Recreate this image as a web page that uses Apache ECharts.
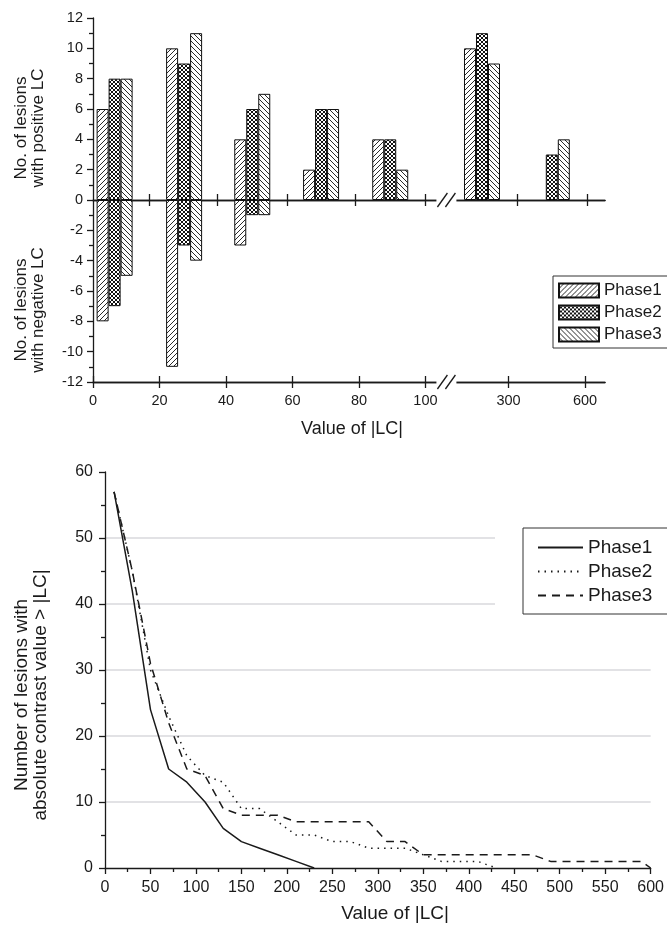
<!DOCTYPE html>
<html>
<head>
<meta charset="utf-8">
<script src="https://cdn.jsdelivr.net/npm/echarts@6/dist/echarts.min.js"></script>
<style>
  html, body { margin: 0; padding: 0; background: #fff; }
  #chart { width: 667px; height: 925px; }
</style>
</head>
<body>
<div id="chart"></div>
<script>
  // --- top chart: lesions with positive / negative LC per |LC| bin ---
  const phaseNames = ['Phase1', 'Phase2', 'Phase3']
  const groupPos = [6.5, 27.4, 47.9, 68.6, 89.4, 117, 138]
  const posPhase1 = [6, 10, 4, 2, 4, 10, 0]
  const posPhase2 = [8, 9, 6, 6, 4, 11, 3]
  const posPhase3 = [8, 11, 7, 6, 2, 9, 4]
  const negPhase1 = [-8, -11, -3, 0, 0, 0, 0]
  const negPhase2 = [-7, -3, -1, 0, 0, 0, 0]
  const negPhase3 = [-5, -4, -1, 0, 0, 0, 0]
  const xTickPos = [0, 20, 40, 60, 80, 100, 125, 148]
  const xTickLabels = ['0', '20', '40', '60', '80', '100', '300', '600']
  const zeroTickPos = [17, 37.5, 58.3, 79, 100, 127.5, 148.6]
  const breakPos = 106.3

  // --- bottom chart: lesions with |contrast| > LC ---
  const lcX = [10, 30, 50, 70, 90, 110, 130, 150, 170, 190, 210, 230, 250, 270, 290, 310,
    330, 350, 370, 390, 410, 430, 450, 470, 490, 510, 530, 550, 570, 590, 600]
  const curvePhase1 = [57, 42, 24, 15, 13, 10, 6, 4, 3, 2, 1, 0]
  const curvePhase2 = [57, 45, 30, 23, 17, 14, 13, 9, 9, 7, 5, 5, 4, 4, 3, 3, 3, 2, 1, 1, 1, 0]
  const curvePhase3 = [57, 45, 31, 22, 15, 14, 9, 8, 8, 8, 7, 7, 7, 7, 7, 4, 4, 2, 2, 2, 2, 2, 2, 2,
    1, 1, 1, 1, 1, 1, 0]

  const FONT = '"Liberation Sans", Arial, sans-serif'
  const INK = '#1a1a1a'

  function makePattern(kind) {
    const s = kind === 'cross' ? 4 : 5
    const c = document.createElement('canvas')
    c.width = s
    c.height = s
    const g = c.getContext('2d')
    g.fillStyle = '#fff'
    g.fillRect(0, 0, s, s)
    g.strokeStyle = kind === 'cross' ? '#111' : '#2a2a2a'
    g.lineWidth = kind === 'cross' ? 1 : 1
    const fwd = () => {
      g.beginPath()
      g.moveTo(-1, s + 1); g.lineTo(s + 1, -1)
      g.moveTo(-1, 1); g.lineTo(1, -1)
      g.moveTo(s - 1, s + 1); g.lineTo(s + 1, s - 1)
      g.stroke()
    }
    const back = () => {
      g.beginPath()
      g.moveTo(-1, -1); g.lineTo(s + 1, s + 1)
      g.moveTo(-1, s - 1); g.lineTo(1, s + 1)
      g.moveTo(s - 1, -1); g.lineTo(s + 1, 1)
      g.stroke()
    }
    if (kind === 'fwd' || kind === 'cross') fwd()
    if (kind === 'back' || kind === 'cross') back()
    return { image: c, repeat: 'repeat' }
  }
  const patterns = [makePattern('fwd'), makePattern('cross'), makePattern('back')]

  const posData = [posPhase1, posPhase2, posPhase3]
  const negData = [negPhase1, negPhase2, negPhase3]
  const curves = [curvePhase1, curvePhase2, curvePhase3]
  const dashes = ['solid', [1.5, 5], [8, 6]]

  const series = []
  phaseNames.forEach((name, i) => {
    const common = {
      type: 'bar',
      name: name,
      stack: 's' + i,
      xAxisIndex: 0,
      yAxisIndex: 0,
      barWidth: 12,
      barGap: '0%',
      itemStyle: { color: patterns[i], borderColor: '#111', borderWidth: 1 }
    }
    series.push(Object.assign({}, common, {
      data: groupPos.map((x, j) => [x, posData[i][j] || '-'])
    }))
    series.push(Object.assign({}, common, {
      data: groupPos.map((x, j) => [x, negData[i][j] || '-'])
    }))
  })
  phaseNames.forEach((name, i) => {
    series.push({
      type: 'line',
      name: name + '-LC',
      xAxisIndex: 4,
      yAxisIndex: 1,
      symbol: 'none',
      showSymbol: false,
      itemStyle: { color: INK },
      lineStyle: { color: INK, width: 1.5, type: dashes[i] },
      data: lcX.map((x, k) => [x, curves[i][k] === undefined ? null : curves[i][k]])
    })
  })

  const axisLine = { show: true, onZero: false, lineStyle: { color: INK, width: 1.3 } }
  const tickStyle = { color: INK, width: 1.3 }
  const topXBase = { type: 'value', gridIndex: 0, min: 0, max: 154, splitLine: { show: false } }

  const chart = echarts.init(document.getElementById('chart'))
  chart.setOption({
    animation: false,
    backgroundColor: '#fff',
    textStyle: { fontFamily: FONT },
    grid: [
      { left: 93, top: 18, width: 512, height: 364 },
      { left: 105, top: 472, width: 557, height: 396 }
    ],
    legend: [
      {
        data: phaseNames,
        icon: 'rect',
        left: 553,
        top: 276,
        orient: 'vertical',
        itemWidth: 40,
        itemHeight: 14,
        itemGap: 5,
        padding: [6, 40, 5, 5],
        borderColor: '#333',
        borderWidth: 1,
        backgroundColor: '#fff',
        textStyle: { fontSize: 17, color: INK, fontFamily: FONT }
      },
      {
        data: phaseNames.map(n => n + '-LC'),
        formatter: n => n.replace('-LC', ''),
        left: 523,
        top: 528,
        orient: 'vertical',
        itemWidth: 45,
        itemHeight: 12,
        itemGap: 5,
        padding: [10, 40, 9, 14],
        borderColor: '#333',
        borderWidth: 1,
        backgroundColor: '#fff',
        itemStyle: { opacity: 0 },
        textStyle: { fontSize: 19, color: INK, fontFamily: FONT }
      }
    ],
    xAxis: [
      Object.assign({}, topXBase, {
        position: 'bottom',
        axisLine: axisLine,
        axisTick: { show: true, length: 6, lineStyle: tickStyle, customValues: xTickPos },
        axisLabel: {
          show: true, margin: 11, fontSize: 14.5, color: INK, fontFamily: FONT,
          customValues: xTickPos,
          formatter: v => xTickLabels[xTickPos.indexOf(v)]
        }
      }),
      Object.assign({}, topXBase, {
        position: 'bottom',
        axisLine: { show: true, onZero: true, onZeroAxisIndex: 0, lineStyle: { color: INK, width: 1.3 } },
        axisTick: { show: true, length: 6, lineStyle: tickStyle, customValues: zeroTickPos },
        axisLabel: { show: false }
      }),
      Object.assign({}, topXBase, {
        position: 'bottom',
        axisLine: axisLine,
        axisTick: { show: true, inside: true, length: 6, lineStyle: tickStyle, customValues: xTickPos },
        axisLabel: { show: false }
      }),
      Object.assign({}, topXBase, {
        position: 'bottom',
        axisLine: { show: true, onZero: true, onZeroAxisIndex: 0, lineStyle: { color: INK, width: 1.3 } },
        axisTick: { show: true, inside: true, length: 6, lineStyle: tickStyle, customValues: zeroTickPos },
        axisLabel: { show: false }
      }),
      {
        type: 'value',
        gridIndex: 1,
        min: 0,
        max: 600,
        interval: 50,
        axisLine: axisLine,
        axisTick: { show: true, length: 6, lineStyle: tickStyle },
        minorTick: { show: true, splitNumber: 2, length: 4, lineStyle: tickStyle },
        axisLabel: { margin: 12, fontSize: 16, color: INK, fontFamily: FONT },
        splitLine: { show: false }
      }
    ],
    yAxis: [
      {
        type: 'value',
        gridIndex: 0,
        min: -12,
        max: 12,
        interval: 2,
        axisLine: axisLine,
        axisTick: { show: true, length: 6, lineStyle: tickStyle },
        minorTick: { show: true, splitNumber: 2, length: 4, lineStyle: tickStyle },
        axisLabel: { margin: 10, fontSize: 14.5, color: INK, fontFamily: FONT },
        splitLine: { show: false }
      },
      {
        type: 'value',
        gridIndex: 1,
        min: 0,
        max: 60,
        interval: 10,
        axisLine: axisLine,
        axisTick: { show: true, length: 6, lineStyle: tickStyle },
        minorTick: { show: true, splitNumber: 2, length: 4, lineStyle: tickStyle },
        axisLabel: { margin: 12, fontSize: 16, color: INK, fontFamily: FONT },
        splitLine: { show: true, showMinLine: false, showMaxLine: false, lineStyle: { color: '#d8d8dd', width: 1.5 } }
      }
    ],
    series: series
  })

  // axis breaks, axis titles and the white patch behind the lower legend
  const bx = chart.convertToPixel({ xAxisIndex: 0 }, breakPos)
  const yLines = [chart.convertToPixel({ yAxisIndex: 0 }, -12), chart.convertToPixel({ yAxisIndex: 0 }, 0)]
  const graphics = []
  yLines.forEach(y => {
    graphics.push({
      type: 'rect', z: 50,
      shape: { x: bx - 10, y: y - 3, width: 20, height: 6 },
      style: { fill: '#fff' }
    })
    ;[-4, 4].forEach(dx => {
      graphics.push({
        type: 'line', z: 51,
        shape: { x1: bx + dx - 5, y1: y + 7, x2: bx + dx + 5, y2: y - 7 },
        style: { stroke: INK, lineWidth: 1.3 }
      })
    })
  })
  const label = (text, x, y, size, rotate) => ({
    type: 'text', x: x, y: y, z: 60,
    rotation: rotate ? Math.PI / 2 : 0,
    style: {
      text: text, fill: INK, font: size + 'px ' + FONT,
      textAlign: 'center', textVerticalAlign: 'middle'
    }
  })
  graphics.push(label('No. of lesions\nwith positive LC', 30, 128, 17, true))
  graphics.push(label('No. of lesions\nwith negative LC', 30, 310, 17, true))
  graphics.push(label('Value of |LC|', 352, 429, 18, false))
  graphics.push(label('Number of lesions with\nabsolute contrast value > |LC|', 31, 695, 19, true))
  graphics.push(label('Value of |LC|', 395, 914, 19, false))
  graphics.push({
    type: 'rect', z: 1,
    shape: { x: 495, y: 524, width: 172, height: 94 },
    style: { fill: '#fff' }
  })
  chart.setOption({ graphic: graphics })
</script>
</body>
</html>
